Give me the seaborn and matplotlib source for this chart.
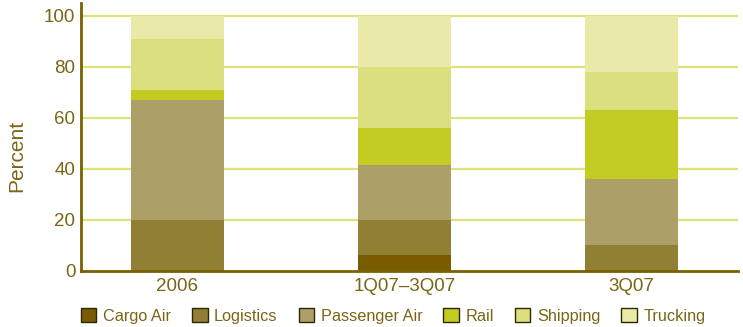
import matplotlib
matplotlib.use("Agg")
import matplotlib.pyplot as plt
from matplotlib.patches import Patch
import seaborn as sns
import pandas as pd
import numpy as np

periods = ["2006", "1Q07\u20133Q07", "3Q07"]
sectors = ["Cargo Air", "Logistics", "Passenger Air", "Rail", "Shipping", "Trucking"]
cargo_air = [0, 6, 0]
logistics = [20, 14, 10]
passenger_air = [47, 21.5, 26]
rail = [4, 14.5, 27]
shipping = [20, 24, 15]
trucking = [9, 20, 22]
colors = ["#7a5c00", "#917f33", "#ac9f67", "#c2cc22", "#dbdf7e", "#e9e9a8"]

text_color = "#7a6514"
spine_color = "#7a6000"
grid_color = "#dde27a"

sns.set_theme(style="white")
plt.rcParams["font.family"] = ["Liberation Sans", "DejaVu Sans"]

values = [cargo_air, logistics, passenger_air, rail, shipping, trucking]
cum = np.cumsum(np.array(values, dtype=float), axis=0)

fig = plt.figure(figsize=(7.43, 3.27), dpi=100)
ax = fig.add_axes([81 / 743, 1 - 270.7 / 327, (738 - 81) / 743, (270.7 - 3) / 327])

for i in range(len(sectors) - 1, -1, -1):
    df = pd.DataFrame({"period": periods, "value": cum[i]})
    sns.barplot(data=df, x="period", y="value", color=colors[i], width=0.41,
                saturation=1, ax=ax, zorder=2, linewidth=0, edgecolor="none")

ax.set_xlim(-0.425, 2.47)
ax.set_ylim(0, 105)
ax.set_yticks([0, 20, 40, 60, 80, 100])
for y in [20, 40, 60, 80, 100]:
    ax.axhline(y, color=grid_color, lw=1.6, zorder=1)

for s in ["top", "right"]:
    ax.spines[s].set_visible(False)
for s in ["left", "bottom"]:
    ax.spines[s].set_color(spine_color)
    ax.spines[s].set_linewidth(2)
    ax.spines[s].set_zorder(3)

ax.tick_params(axis="both", length=0, labelsize=13.5, colors=text_color)
ax.tick_params(axis="y", pad=4)
ax.tick_params(axis="x", pad=5)
ax.set_xlabel("")
ax.set_ylabel("Percent", fontsize=15, color=text_color)
ax.yaxis.set_label_coords(-0.084, 0.43)

handles = [Patch(facecolor=c, edgecolor="#2e2800", linewidth=1, label=s)
           for c, s in zip(colors, sectors)]
leg = fig.legend(handles=handles, loc="center left", bbox_to_anchor=(81 / 743, 1 - 316 / 327),
                 ncol=6, frameon=False, fontsize=11.7, handlelength=0.95, handleheight=0.95,
                 handletextpad=0.4, columnspacing=1.3, borderpad=0, borderaxespad=0)
for t in leg.get_texts():
    t.set_color(text_color)

fig.savefig("out.png", dpi=100)
